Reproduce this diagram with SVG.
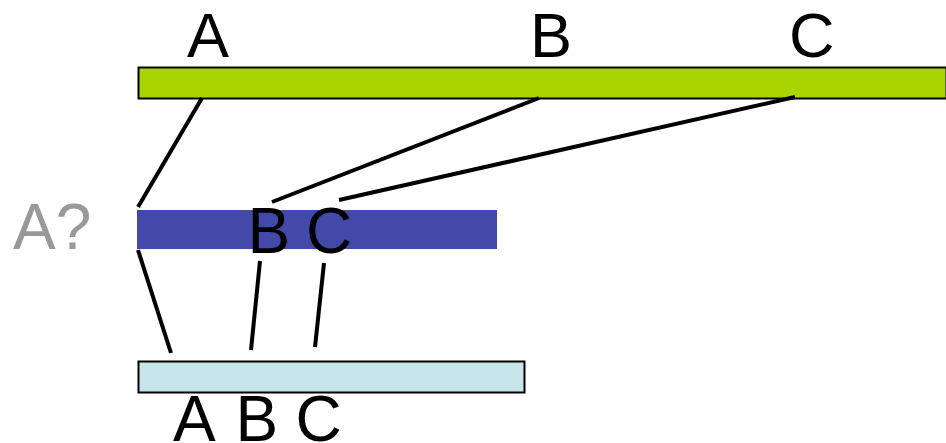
<svg xmlns="http://www.w3.org/2000/svg" width="946" height="443" viewBox="0 0 946 443">
<style>
.t{font-family:"Liberation Sans",Arial,sans-serif;font-size:64px;fill:#000}
.h{font-size:63px}
.g{fill:#999999}
.c line{stroke:#000;stroke-width:4;stroke-linecap:butt}
</style>
<rect width="946" height="443" fill="#fff"/>
<g id="top">
<rect x="138.5" y="67.5" width="808" height="31" fill="#aad400" stroke="#000" stroke-width="2"/>
<text class="t h" x="187" y="57">A</text>
<text class="t h" x="530" y="57">B</text>
<text class="t h" x="789" y="57">C</text>
</g>
<g id="middle">
<rect x="137" y="210" width="360" height="39" fill="#4349a9"/>
<text class="t g" x="13" y="249">A?</text>
<text class="t" y="253"><tspan x="247.5">B</tspan> <tspan x="306">C</tspan></text>
</g>
<g id="bottom">
<rect x="138.5" y="361.5" width="386" height="31" fill="#c6e6ea" stroke="#000" stroke-width="2"/>
<text class="t" y="441"><tspan x="173">A</tspan> <tspan x="235.5">B</tspan> <tspan x="295.5">C</tspan></text>
</g>
<g id="connectors" class="c">
<line x1="202" y1="98" x2="138" y2="207"/>
<line x1="539" y1="98" x2="272" y2="202"/>
<line x1="795" y1="97" x2="339" y2="200"/>
<line x1="138" y1="250" x2="171" y2="353"/>
<line x1="260" y1="261" x2="251" y2="350"/>
<line x1="324" y1="263" x2="315" y2="347"/>
</g>
</svg>
